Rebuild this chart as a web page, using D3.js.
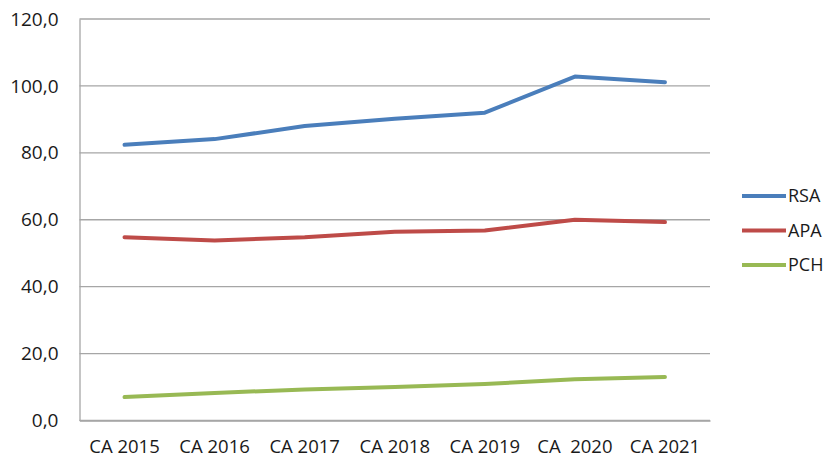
<!DOCTYPE html>
<html>
<head>
<meta charset="utf-8">
<script src="https://cdn.jsdelivr.net/npm/d3@7"></script>
<style>
  html, body { margin: 0; padding: 0; background: #fff; }
  svg { display: block; font-family: "Open Sans", "Liberation Sans", sans-serif; }
</style>
</head>
<body>
<svg id="chart" width="828" height="459"></svg>
<script>
const categories = ["CA 2015", "CA 2016", "CA 2017", "CA 2018", "CA 2019", "CA  2020", "CA 2021"];
const seriesNames = ["RSA", "APA", "PCH"];
const rsaValues = [82.4, 84.1, 88.0, 90.2, 92.0, 102.8, 101.1];
const apaValues = [54.8, 53.8, 54.8, 56.4, 56.8, 60.0, 59.3];
const pchValues = [7.0, 8.2, 9.3, 10.0, 10.9, 12.3, 13.0];
const yTicks = [0, 20, 40, 60, 80, 100, 120];
const colors = ["#4a7ebb", "#be4b48", "#98b954"];

const series = [
  { name: seriesNames[0], values: rsaValues, color: colors[0] },
  { name: seriesNames[1], values: apaValues, color: colors[1] },
  { name: seriesNames[2], values: pchValues, color: colors[2] }
];

const svg = d3.select("#chart");
const plot = { left: 79.5, right: 710, top: 19, bottom: 420.5 };

const x = d3.scaleBand().domain(categories).range([plot.left, plot.right]).padding(0);
const y = d3.scaleLinear().domain([0, 120]).range([plot.bottom, plot.top]);

const locale = d3.formatLocale({ decimal: ",", thousands: ".", grouping: [3], currency: ["", " €"] });
const fmt = locale.format(".1f");

// horizontal gridlines
svg.append("g")
  .selectAll("line")
  .data(yTicks)
  .join("line")
  .attr("x1", plot.left)
  .attr("x2", plot.right)
  .attr("y1", d => y(d))
  .attr("y2", d => y(d))
  .attr("stroke", "#a6a6a6")
  .attr("stroke-width", 1.3);

// y axis
const yAxis = svg.append("g")
  .attr("transform", `translate(${plot.left},0)`)
  .call(d3.axisLeft(y).tickValues(yTicks).tickFormat(fmt).tickSize(0).tickPadding(21));
yAxis.select(".domain").attr("stroke", "#a6a6a6").attr("stroke-width", 1.3);
yAxis.selectAll("text")
  .attr("fill", "#1a1a1a")
  .style("font-size", "19px")
  .style("font-family", "'Open Sans', sans-serif");

// x axis
const xAxis = svg.append("g")
  .attr("transform", `translate(0,${plot.bottom})`)
  .call(d3.axisBottom(x).tickSize(0).tickPadding(19));
xAxis.select(".domain").attr("stroke", "#a6a6a6").attr("stroke-width", 1.3);
xAxis.selectAll("text")
  .attr("fill", "#1a1a1a")
  .style("font-size", "18.5px")
  .style("font-family", "'Open Sans', sans-serif")
  .style("white-space", "pre")
  .attr("xml:space", "preserve");

// series lines
const line = d3.line()
  .x((d, i) => x(categories[i]) + x.bandwidth() / 2)
  .y(d => y(d));

svg.append("g")
  .selectAll("path")
  .data(series)
  .join("path")
  .attr("d", d => line(d.values))
  .attr("fill", "none")
  .attr("stroke", d => d.color)
  .attr("stroke-width", 4)
  .attr("stroke-linejoin", "round")
  .attr("stroke-linecap", "round");

// legend
const legend = svg.append("g").attr("transform", "translate(742,196)");
const item = legend.selectAll("g")
  .data(series)
  .join("g")
  .attr("transform", (d, i) => `translate(0,${i * 34.5})`);
item.append("line")
  .attr("x1", 0).attr("x2", 44)
  .attr("y1", 0).attr("y2", 0)
  .attr("stroke", d => d.color)
  .attr("stroke-width", 4);
item.append("text")
  .attr("x", 46)
  .attr("y", 0)
  .attr("dy", "0.35em")
  .attr("fill", "#1a1a1a")
  .style("font-size", "18px")
  .text(d => d.name);
</script>
</body>
</html>
